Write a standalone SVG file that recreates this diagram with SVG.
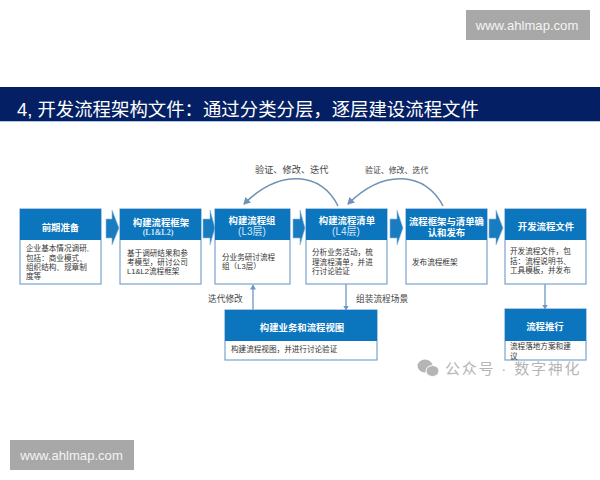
<svg xmlns="http://www.w3.org/2000/svg" width="600" height="480" viewBox="0 0 600 480">
<style>
text{font-family:"Liberation Sans","Noto Sans CJK SC",sans-serif}
.box{fill:#fff;stroke:#7ba3cf;stroke-width:1.2}
.hd{fill:#0b75bd}
.ht{fill:#fff;font-size:9.400px;font-weight:bold;text-anchor:middle}
.hs{fill:#d5e6f5;font-size:10px;text-anchor:middle}
.bt{fill:#333;font-size:7.600px}
.lb{fill:#444;font-size:8.700px}
.ar{fill:#1a7cc0;stroke:#8ab8de;stroke-width:.6}
.ln{fill:none;stroke:#6c97c6;stroke-width:1.3}
.cv{fill:none;stroke:#6f93b5;stroke-width:1.5}
.url{fill:#f4f4f4;font-size:13.100px;text-anchor:middle}
</style>
<defs>
<marker id="tip" markerWidth="6" markerHeight="6" refX="4.500" refY="3" orient="auto" markerUnits="userSpaceOnUse"><path d="M0 0L5 3L0 6Z" fill="#6c97c6"/></marker>
<marker id="tipc" markerWidth="9" markerHeight="9" refX="6" refY="4" orient="auto" markerUnits="userSpaceOnUse"><path d="M0 0L7 4L0 8Z" fill="#6f93b5"/></marker>
</defs>
<rect width="600" height="480" fill="#fff"/>
<g id="watermark-top"><rect x="466" y="10" width="124" height="30" fill="#a8a8a8"/><text class="url" x="527" y="29.500">www.ahlmap.com</text></g>
<g id="title"><rect x="0" y="87" width="600" height="34" fill="#041f63"/><rect x="0" y="121" width="600" height="1" fill="#a9c7e6"/><text x="17" y="115.500" font-size="18.400" fill="#fff">4, 开发流程架构文件：通过分类分层，逐层建设流程文件</text></g>
<g id="connectors">
<path class="ar" d="M106 219H112V210L119 228L112 245V238H106Z"/>
<path class="ar" d="M203 219H210V210L215 228L210 245V238H203Z"/>
<path class="ar" d="M293 219H300V210L305 228L300 245V238H293Z"/>
<path class="ar" d="M390 219H397V210L403 228L397 245V238H390Z"/>
<path class="ar" d="M489 219H496V210L503 228L496 245V238H489Z"/>
<path class="cv" d="M338 206C322 172 280 168 244 204" marker-end="url(#tipc)"/>
<path class="cv" d="M443 206C426 172 384 168 348 204" marker-end="url(#tipc)"/>
<path class="ln" d="M253 310V285" marker-end="url(#tip)"/>
<path class="ln" d="M346 284V310" marker-end="url(#tip)"/>
<path class="ln" d="M545 284V309" marker-end="url(#tip)"/>
</g>
<g id="node-prep"><rect class="box" x="20" y="209" width="81" height="75"/><rect class="hd" x="20" y="209" width="81" height="31"/><text class="ht" x="60.500" y="231">前期准备</text><text class="bt"><tspan x="26" y="251">企业基本情况调研,</tspan><tspan x="26" y="260.500">包括：商业模式、</tspan><tspan x="26" y="270">组织结构、规章制</tspan><tspan x="26" y="279">度等</tspan></text></g>
<g id="node-framework"><rect class="box" x="120" y="209" width="81" height="75"/><rect class="hd" x="120" y="209" width="81" height="31"/><text class="ht" x="161" y="225.500">构建流程框架</text><text class="hs" x="158" y="235" font-weight="bold" style="font-family:'Liberation Serif','Noto Sans CJK SC',serif;font-size:8px">(L1&amp;L2)</text><text class="bt"><tspan x="127" y="255.500">基于调研结果和参</tspan><tspan x="127" y="265">考模型，研讨公司</tspan><tspan x="127" y="274">L1&amp;L2流程框架</tspan></text></g>
<g id="node-l3"><rect class="box" x="215" y="209" width="75" height="75"/><rect class="hd" x="215" y="209" width="75" height="31"/><text class="ht" x="252" y="224">构建流程组</text><text class="hs" x="252" y="234.500">(L3层)</text><text class="bt"><tspan x="222" y="260">分业务研讨流程</tspan><tspan x="222" y="269">组（L3层）</tspan></text></g>
<g id="node-l4"><rect class="box" x="306" y="209" width="81" height="75"/><rect class="hd" x="306" y="209" width="81" height="31"/><text class="ht" x="347" y="224">构建流程清单</text><text class="hs" x="346" y="234.500">(L4层)</text><text class="bt"><tspan x="312" y="255">分析业务活动，梳</tspan><tspan x="312" y="265">理流程清单，并进</tspan><tspan x="312" y="274">行讨论验证</tspan></text></g>
<g id="node-publish"><rect class="box" x="406" y="209" width="81" height="75"/><rect class="hd" x="406" y="209" width="81" height="31"/><text class="ht" x="446.500" y="224.500">流程框架与清单确</text><text class="ht" x="446.500" y="236" font-weight="normal">认和发布</text><text class="bt" x="412" y="265">发布流程框架</text></g>
<g id="node-docs"><rect class="box" x="505" y="209" width="81" height="75"/><rect class="hd" x="505" y="209" width="81" height="31"/><text class="ht" x="546" y="230">开发流程文件</text><text class="bt"><tspan x="510" y="254">开发流程文件，包</tspan><tspan x="510" y="264">括：流程说明书、</tspan><tspan x="510" y="273">工具模板，并发布</tspan></text></g>
<g id="node-view"><rect class="box" x="225" y="310" width="152" height="50"/><rect class="hd" x="225" y="310" width="152" height="31"/><text class="ht" x="302" y="331">构建业务和流程视图</text><text class="bt" x="231" y="352">构建流程视图，并进行讨论验证</text></g>
<g id="node-rollout"><rect class="box" x="505" y="309" width="81" height="51"/><rect class="hd" x="505" y="309" width="81" height="32"/><text class="ht" x="545" y="330">流程推行</text><text class="bt"><tspan x="510" y="349">流程落地方案和建</tspan><tspan x="510" y="359">议</tspan></text></g>
<g id="labels">
<text class="lb" x="255" y="173" style="font-size:9.200px">验证、修改、迭代</text>
<text class="lb" x="365" y="173" style="font-size:7.900px">验证、修改、迭代</text>
<text class="lb" x="208" y="301.500">迭代修改</text>
<text class="lb" x="356" y="301.500">组装流程场景</text>
</g>
<g id="wechat-mark" fill="#b5b5b5"><ellipse cx="425" cy="366" rx="7.500" ry="6.500"/><ellipse cx="432.500" cy="371" rx="6.500" ry="5.500" stroke="#fff"/><text x="445" y="374" font-size="15" letter-spacing="1.800" style="fill:#b5b5b5">公众号 · 数字神化</text></g>
<g id="watermark-bottom"><rect x="10" y="440" width="124" height="30" fill="#a8a8a8"/><text class="url" x="71.500" y="459.500">www.ahlmap.com</text></g>
</svg>
